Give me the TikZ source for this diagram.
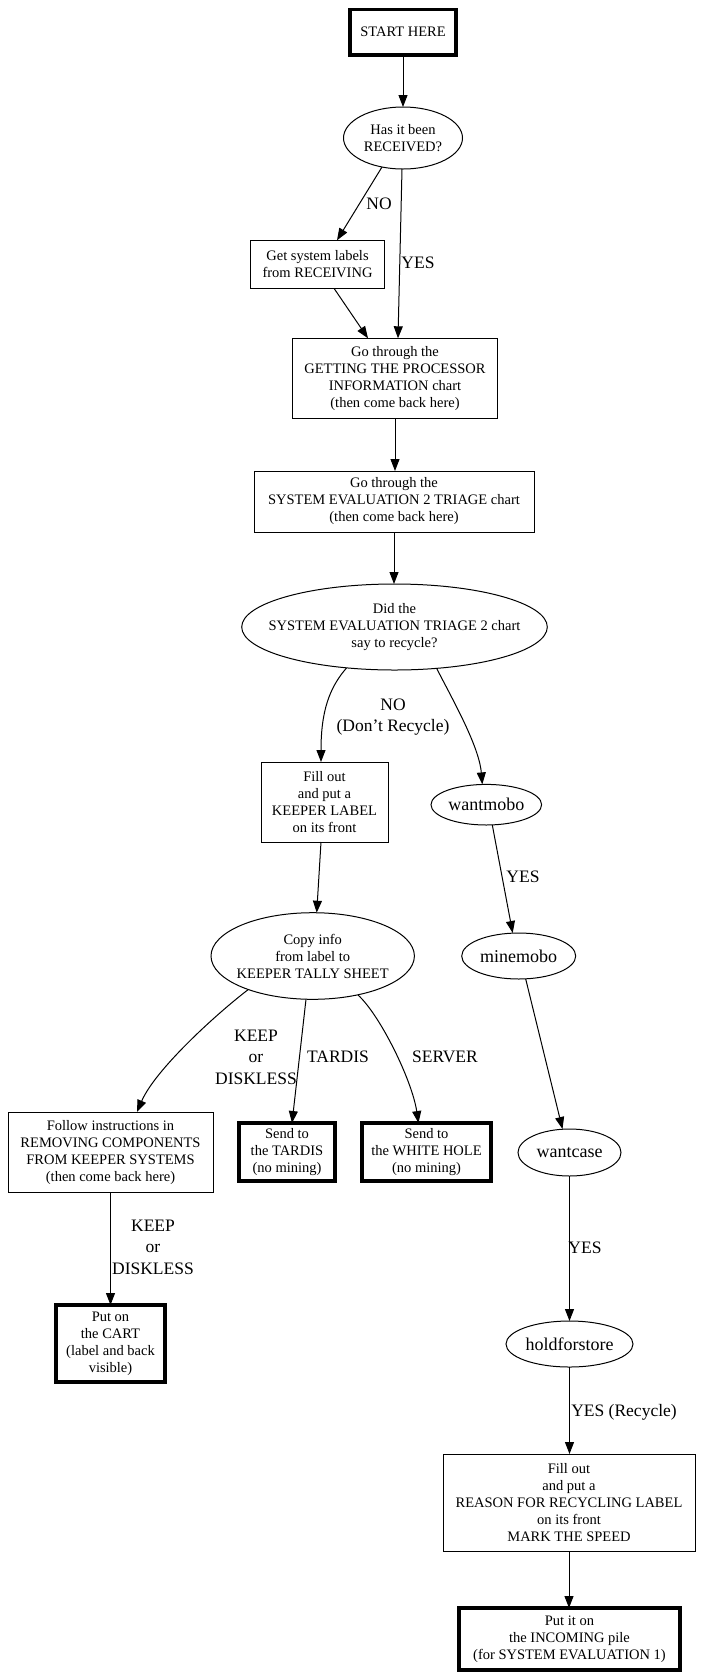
\documentclass[tikz,border=0pt]{standalone}
\usepackage{fontspec}
\setmainfont{Liberation Serif}
\usetikzlibrary{shapes.geometric,arrows.meta,calc}
\begin{document}
\begin{tikzpicture}[x=1pt,y=-1pt,
  every node/.style={inner sep=0pt, outer sep=0pt},
  box/.style={draw, line width=1pt, rectangle, align=center, font=\fontsize{14.5}{17}\selectfont},
  tbox/.style={box, line width=3.5pt},
  ell/.style={draw, line width=1pt, ellipse},
  etxt/.style={align=center, font=\fontsize{14.5}{17}\selectfont},
  bigt/.style={font=\fontsize{18}{21}\selectfont},
  lab/.style={align=center, font=\fontsize{17.5}{21.5}\selectfont},
  arr/.style={line width=1pt, -{Triangle[length=12pt,width=9pt]}},
]
\useasboundingbox (0,0) rectangle (703,1674);

% nodes
\node[tbox, minimum width=106pt, minimum height=45.5pt] (start) at (403,32) {START HERE};
\node[ell, minimum width=119pt, minimum height=62pt] (recv) at (403,138) {};
\node[etxt] (recv-t) at (recv) {Has it been\\RECEIVED?};
\node[box, minimum width=134pt, minimum height=48pt] (get) at (317.5,264.3) {Get system labels\\from RECEIVING};
\node[box, minimum width=205pt, minimum height=80pt] (getting) at (395,378.3) {Go through the\\GETTING THE PROCESSOR\\INFORMATION chart\\(then come back here)};
\node[box, minimum width=280pt, minimum height=61pt] (sys2) at (394,501.5) {Go through the\\SYSTEM EVALUATION 2 TRIAGE chart\\(then come back here)};
\node[ell, minimum width=305.6pt, minimum height=86pt] (did) at (394.5,627) {};
\node[etxt] (did-t) at (did) {Did the\\SYSTEM EVALUATION TRIAGE 2 chart\\say to recycle?};
\node[box, minimum width=127pt, minimum height=80pt] (keeper) at (324.5,802) {Fill out\\and put a\\KEEPER LABEL\\on its front};
\node[ell, minimum width=110.6pt, minimum height=40.6pt] (wm) at (486.3,804.7) {};
\node[bigt] (wm-t) at (wm) {wantmobo};
\node[ell, minimum width=203.4pt, minimum height=86.6pt] (copy) at (312.7,956) {};
\node[etxt] (copy-t) at (copy) {Copy info\\from label to\\KEEPER TALLY SHEET};
\node[ell, minimum width=114pt, minimum height=46pt] (mm) at (518.7,956) {};
\node[bigt] (mm-t) at (mm) {minemobo};
\node[box, minimum width=205pt, minimum height=80pt] (follow) at (110.5,1152) {Follow instructions in\\REMOVING COMPONENTS\\FROM KEEPER SYSTEMS\\(then come back here)};
\node[tbox, minimum width=96pt, minimum height=58pt] (tardis) at (287,1152) {Send to\\the TARDIS\\(no mining)};
\node[tbox, minimum width=129pt, minimum height=58pt] (white) at (426.5,1152) {Send to\\the WHITE HOLE\\(no mining)};
\node[tbox, minimum width=109pt, minimum height=77pt] (cart) at (110.5,1343.5) {Put on\\the CART\\(label and back\\visible)};
\node[ell, minimum width=103pt, minimum height=47pt] (wc) at (569.5,1152.5) {};
\node[bigt] (wc-t) at (wc) {wantcase};
\node[ell, minimum width=127pt, minimum height=46pt] (hold) at (569.5,1344) {};
\node[bigt] (hold-t) at (hold) {holdforstore};
\node[box, minimum width=252pt, minimum height=97pt] (reason) at (569,1502.5) {Fill out\\and put a\\REASON FOR RECYCLING LABEL\\on its front\\MARK THE SPEED};
\node[tbox, minimum width=221pt, minimum height=62pt] (incoming) at (569.5,1639) {Put it on\\the INCOMING pile\\(for SYSTEM EVALUATION 1)};

% edge labels
\node[lab] (l-no1) at (379,204) {NO};
\node[lab] (l-yes1) at (418,263) {YES};
\node[lab] (l-no2) at (393,717) {NO\\(Don't Recycle)};
\node[lab] (l-yes2) at (523,877) {YES};
\node[lab] (l-keep1) at (256,1057) {KEEP\\or\\DISKLESS};
\node[lab] (l-tardis) at (338,1057) {TARDIS};
\node[lab] (l-server) at (445,1057) {SERVER};
\node[lab] (l-keep2) at (153,1247) {KEEP\\or\\DISKLESS};
\node[lab] (l-yes3) at (585,1248) {YES};
\node[lab] (l-yes4) at (624,1412) {YES (Recycle)};

% edges
\draw[arr] (start.south) -- (recv.north);
\draw[arr] ($(recv)+(-21,29)$) -- ($(get.north)+(19.5,0)$);
\draw[arr] ($(recv.south)+(-1,0)$) -- ($(getting.north)+(3,0)$);
\draw[arr] ($(get.south)+(16.5,0)$) -- ($(getting.north)+(-27,0)$);
\draw[arr] (getting.south) -- (getting.south |- sys2.north);
\draw[arr] (sys2.south) -- (sys2.south |- did.north);
\draw[arr] ($(did)+(-48,41)$) .. controls (329,688) and (321,712) .. ($(keeper.north)+(-3.5,0)$);
\draw[arr] ($(did)+(42,41)$) .. controls (450,695) and (479,745) .. ($(wm.north)+(-4,0)$);
\draw[arr] ($(keeper.south)+(-3.5,0)$) -- ($(copy.north)+(4,0)$);
\draw[arr] ($(wm.south)+(6,0)$) -- ($(mm.north)+(-6,0)$);
\draw[arr] ($(copy)+(-64.4,33.5)$) .. controls (215,1015) and (155,1070) .. ($(follow.north)+(26.5,0)$);
\draw[arr] ($(copy.south)+(-6.7,0)$) -- ($(tardis.north)+(5,0)$);
\draw[arr] ($(copy)+(45.3,39)$) .. controls (380,1015) and (412,1080) .. ($(white.north)+(-8,0)$);
\draw[arr] (follow.south) -- (cart.north);
\draw[arr] ($(mm.south)+(7,0)$) -- ($(wc.north)+(-7,0)$);
\draw[arr] (wc.south) -- (hold.north);
\draw[arr] (hold.south) -- (hold.south |- reason.north);
\draw[arr] (reason.south) -- (reason.south |- incoming.north);
\end{tikzpicture}
\end{document}
